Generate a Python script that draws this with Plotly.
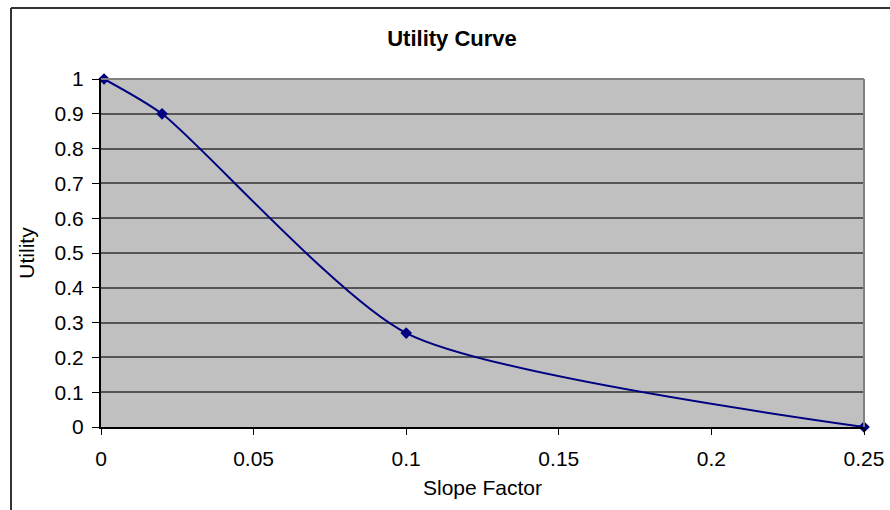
import plotly.graph_objects as go

slope_factor = [0.001, 0.02, 0.1, 0.25]
utility = [1.0, 0.9, 0.27, 0.0]
x_ticks = [0, 0.05, 0.1, 0.15, 0.2, 0.25]
x_tick_labels = ["0", "0.05", "0.1", "0.15", "0.2", "0.25"]
y_ticks = [0, 0.1, 0.2, 0.3, 0.4, 0.5, 0.6, 0.7, 0.8, 0.9, 1]
y_tick_labels = ["0", "0.1", "0.2", "0.3", "0.4", "0.5", "0.6", "0.7", "0.8", "0.9", "1"]

FONT = "Liberation Sans, Arial, sans-serif"
NAVY = "#000080"

fig = go.Figure()
fig.add_trace(go.Scatter(
    x=slope_factor, y=utility, mode="lines+markers",
    line=dict(color=NAVY, width=2, shape="spline", smoothing=0.65),
    marker=dict(symbol="diamond", size=9, color=NAVY),
    showlegend=False, cliponaxis=False,
))

W, H = 890, 510
L, R, T, B = 101, 26, 79, 83
pw, ph = W - L - R, H - T - B

def px(x):
    return (x - L) / pw

def py(y):
    return (H - B - y) / ph

fig.update_layout(
    width=W, height=H,
    margin=dict(l=L, r=R, t=T, b=B, autoexpand=False),
    paper_bgcolor="white",
    plot_bgcolor="#C0C0C0",
    font=dict(family=FONT, size=21, color="black"),
    title=dict(text="<b>Utility Curve</b>", x=px(452), xref="paper", xanchor="center",
               y=1 - 38 / H, yanchor="middle", font=dict(size=22, family=FONT)),
    xaxis=dict(
        range=[0, 0.25], tickvals=x_ticks, ticktext=x_tick_labels,
        showgrid=False, zeroline=False, automargin=False,
        showline=True, linecolor="black", linewidth=2,
        ticks="outside", ticklen=6, tickcolor="black", tickwidth=1,
        ticklabelstandoff=6,
        title=dict(text="Slope Factor", standoff=11, font=dict(size=21)),
        tickfont=dict(size=21),
    ),
    yaxis=dict(
        range=[0, 1], tickvals=y_ticks, ticktext=y_tick_labels,
        showgrid=True, gridcolor="#555555", gridwidth=1.5,
        zeroline=False, automargin=False,
        showline=True, linecolor="black", linewidth=2,
        ticks="outside", ticklen=7, tickcolor="black", tickwidth=1,
        ticklabelstandoff=4,
        title=dict(text="Utility", standoff=14, font=dict(size=21)),
        tickfont=dict(size=21),
    ),
    shapes=[
        dict(type="line", xref="paper", yref="paper", x0=0, x1=1, y0=1, y1=1,
             line=dict(color="#808080", width=2)),
        dict(type="line", xref="paper", yref="paper", x0=1, x1=1, y0=0, y1=1,
             line=dict(color="#808080", width=2)),
        dict(type="line", xref="paper", yref="paper", x0=px(11), x1=px(891), y0=py(8), y1=py(8),
             line=dict(color="#333333", width=2)),
        dict(type="line", xref="paper", yref="paper", x0=px(11), x1=px(11), y0=py(8), y1=py(515),
             line=dict(color="#333333", width=2)),
    ],
)

fig.write_html("out.html")
